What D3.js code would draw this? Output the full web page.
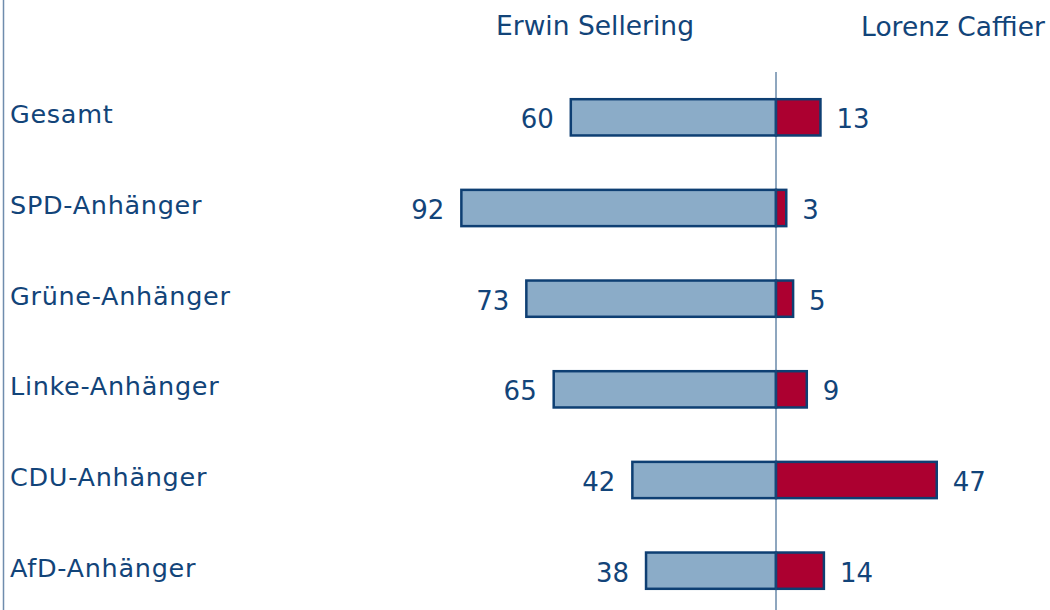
<!DOCTYPE html>
<html><head><meta charset="utf-8">
<script src="https://cdnjs.cloudflare.com/ajax/libs/d3/7.8.5/d3.min.js"></script>
<style>body{margin:0;background:#fff}svg{display:block}</style>
</head><body>
<svg id="chart" width="1050" height="610"></svg>
<script>
const categories = ["Gesamt","SPD-Anhänger","Grüne-Anhänger","Linke-Anhänger","CDU-Anhänger","AfD-Anhänger"];
const sellering = [60,92,73,65,42,38];
const caffier = [13,3,5,9,47,14];
const seriesNames = ["Erwin Sellering","Lorenz Caffier"];

const svg = d3.select("#chart");
const W = 1050, H = 610;
const cx = 776;
const font = "'DejaVu Sans', Verdana, sans-serif";
const textColor = "#124479";

const len = d3.scaleLinear().domain([0,100]).range([0,342]);
const y = d3.scaleBand().domain(categories).range([72,616]).paddingInner(0.6).paddingOuter(0.3);

// left border line
svg.append("line").attr("x1",3.5).attr("x2",3.5).attr("y1",0).attr("y2",H)
  .attr("stroke","#6F8CAD").attr("stroke-width",1.5);

// headers
svg.append("text").attr("x",595).attr("y",35).attr("text-anchor","middle")
  .attr("font-family",font).attr("font-size",26.5).attr("fill",textColor).text(seriesNames[0]);
svg.append("text").attr("x",953).attr("y",36).attr("text-anchor","middle")
  .attr("font-family",font).attr("font-size",26.5).attr("fill",textColor).text(seriesNames[1]);

const rows = svg.selectAll("g.row").data(categories).join("g").attr("class","row");

rows.append("rect")
  .attr("x",(d,i)=>cx-len(sellering[i])).attr("y",d=>y(d))
  .attr("width",(d,i)=>len(sellering[i])).attr("height",y.bandwidth())
  .attr("fill","#8BACC8").attr("stroke","#0E3F73").attr("stroke-width",2.5);
rows.append("rect")
  .attr("x",cx).attr("y",d=>y(d))
  .attr("width",(d,i)=>len(caffier[i])).attr("height",y.bandwidth())
  .attr("fill","#AC0030").attr("stroke","#0E3F73").attr("stroke-width",2.5);

// center axis line
svg.append("line").attr("x1",cx).attr("x2",cx).attr("y1",72).attr("y2",H)
  .attr("stroke","#1F4E7E").attr("stroke-width",1);

rows.append("text").attr("x",10).attr("y",d=>y(d)+y.bandwidth()/2-3)
  .attr("dy","0.35em").attr("font-family",font).attr("font-size",25.5).attr("letter-spacing",0.7)
  .attr("fill",textColor)
  .text(d=>d);
rows.append("text").attr("x",(d,i)=>cx-len(sellering[i])-17).attr("y",d=>y(d)+y.bandwidth()/2+2)
  .attr("dy","0.35em").attr("text-anchor","end").attr("font-family",font).attr("font-size",26).attr("fill",textColor)
  .text((d,i)=>sellering[i]);
rows.append("text").attr("x",(d,i)=>cx+len(caffier[i])+16).attr("y",d=>y(d)+y.bandwidth()/2+2)
  .attr("dy","0.35em").attr("font-family",font).attr("font-size",26).attr("fill",textColor)
  .text((d,i)=>caffier[i]);
</script>
</body></html>
